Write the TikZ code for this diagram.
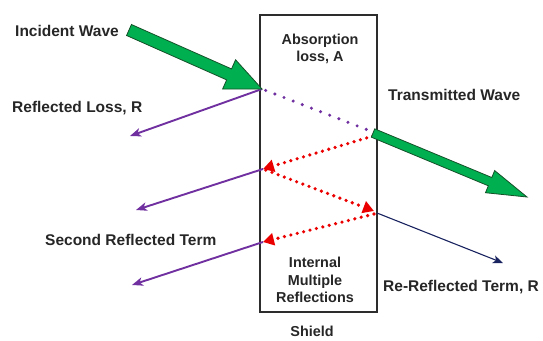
\documentclass[tikz,border=0pt]{standalone}
\usepackage{fontspec}
\setmainfont{Liberation Sans}
\usetikzlibrary{arrows.meta,calc}
\definecolor{wgreen}{RGB}{0,176,80}
\definecolor{wgreenline}{RGB}{20,80,40}
\definecolor{wpurple}{RGB}{112,48,160}
\definecolor{wred}{RGB}{235,0,0}
\definecolor{wnavy}{RGB}{25,35,95}
\definecolor{wbox}{RGB}{45,45,45}
\newcommand\fatarrow[6]{%
  \coordinate (#1n) at ($(#3)!#6!(#2)$);
  \fill[wgreen, draw=wgreenline, line width=0.8pt, line join=miter]
    ($(#2)!#4!-90:(#3)$) -- ($(#1n)!#4!90:(#2)$) -- ($(#1n)!#5!90:(#2)$) -- (#3)
    -- ($(#1n)!#5!-90:(#2)$) -- ($(#1n)!#4!-90:(#2)$) -- ($(#2)!#4!90:(#3)$) -- cycle;
}
\tikzset{
  lbl/.style={font=\fontsize{15.5}{17}\selectfont\bfseries, inner sep=0pt, text=black!85},
  boxlbl/.style={font=\fontsize{14.4}{17.5}\selectfont\bfseries, inner sep=0pt, align=center, text=black!85},
  refl/.style={draw=wpurple, line width=1.9pt, -{Stealth[length=11pt,width=8.5pt,inset=3pt]}},
  rerefl/.style={draw=wnavy, line width=1.1pt, -{Stealth[length=10pt,width=8pt,inset=2.5pt]}},
  absorb/.style={draw=wpurple, line width=3.4pt, line cap=round, dash pattern=on 0pt off 9.8pt},
  multi/.style={draw=wred, line width=3.6pt, line cap=round, dash pattern=on 0pt off 6.6pt,
     -{Triangle[length=11pt,width=12pt,fill=wred]}},
}
\begin{document}
\begin{tikzpicture}[x=1pt,y=-1pt]
\useasboundingbox (0,0) rectangle (543,340);
% shield
\node[draw=wbox, line width=1.3pt, minimum width=117pt, minimum height=297pt, inner sep=0pt] (shield) at (318.5,163.5) {};
% key points
\coordinate (p1) at (262,89);
\coordinate (p2) at (373,132);
\coordinate (p3) at (263,169);
\coordinate (p4) at (374,211);
\coordinate (p5) at (263,242);
\coordinate (itail) at (129,30);
\coordinate (ttail) at (373,133);
\coordinate (ttip) at (527,197);
\coordinate (r1) at (130,136);
\coordinate (r2) at (136,210);
\coordinate (r3) at (132,285);
\coordinate (rr) at (503,263);
% absorption (dotted)
\draw[absorb] ($(p1)!4pt!(p2)$) -- ($(p2)!2pt!(p1)$);
% internal reflections
\draw[multi] (373,136) -- (p3);
\draw[multi] ($(p3)!3pt!(p4)$) -- (p4);
\draw[multi] (374,214) -- (p5);
% reflected
\draw[refl] (p1) -- (r1);
\draw[refl] (p3) -- (r2);
\draw[refl] (p5) -- (r3);
\draw[rerefl] (377,213) -- (rr);
% green arrows
\fatarrow{inc}{itail}{p1}{6pt}{16pt}{36pt}
\fatarrow{tra}{ttail}{ttip}{4.5pt}{12pt}{40pt}
% labels
\node[lbl, anchor=west] (incl) at (15,30.5) {Incident Wave};
\node[lbl, anchor=west] (refll) at (12,108) {Reflected Loss, R};
\node[lbl, anchor=west] (tral) at (388,95) {Transmitted Wave};
\node[lbl, anchor=west] (secl) at (45,240) {Second Reflected Term};
\node[lbl, anchor=west] (rerl) at (383,287.5) {Re-Reflected Term, R};
\node[boxlbl] (absl) at (320,49) {Absorption\\loss, A};
\node[boxlbl] (intl) at (315,280) {Internal\\Multiple\\Reflections};
\node[boxlbl] (shl) at (312,331.5) {Shield};
\end{tikzpicture}
\end{document}
